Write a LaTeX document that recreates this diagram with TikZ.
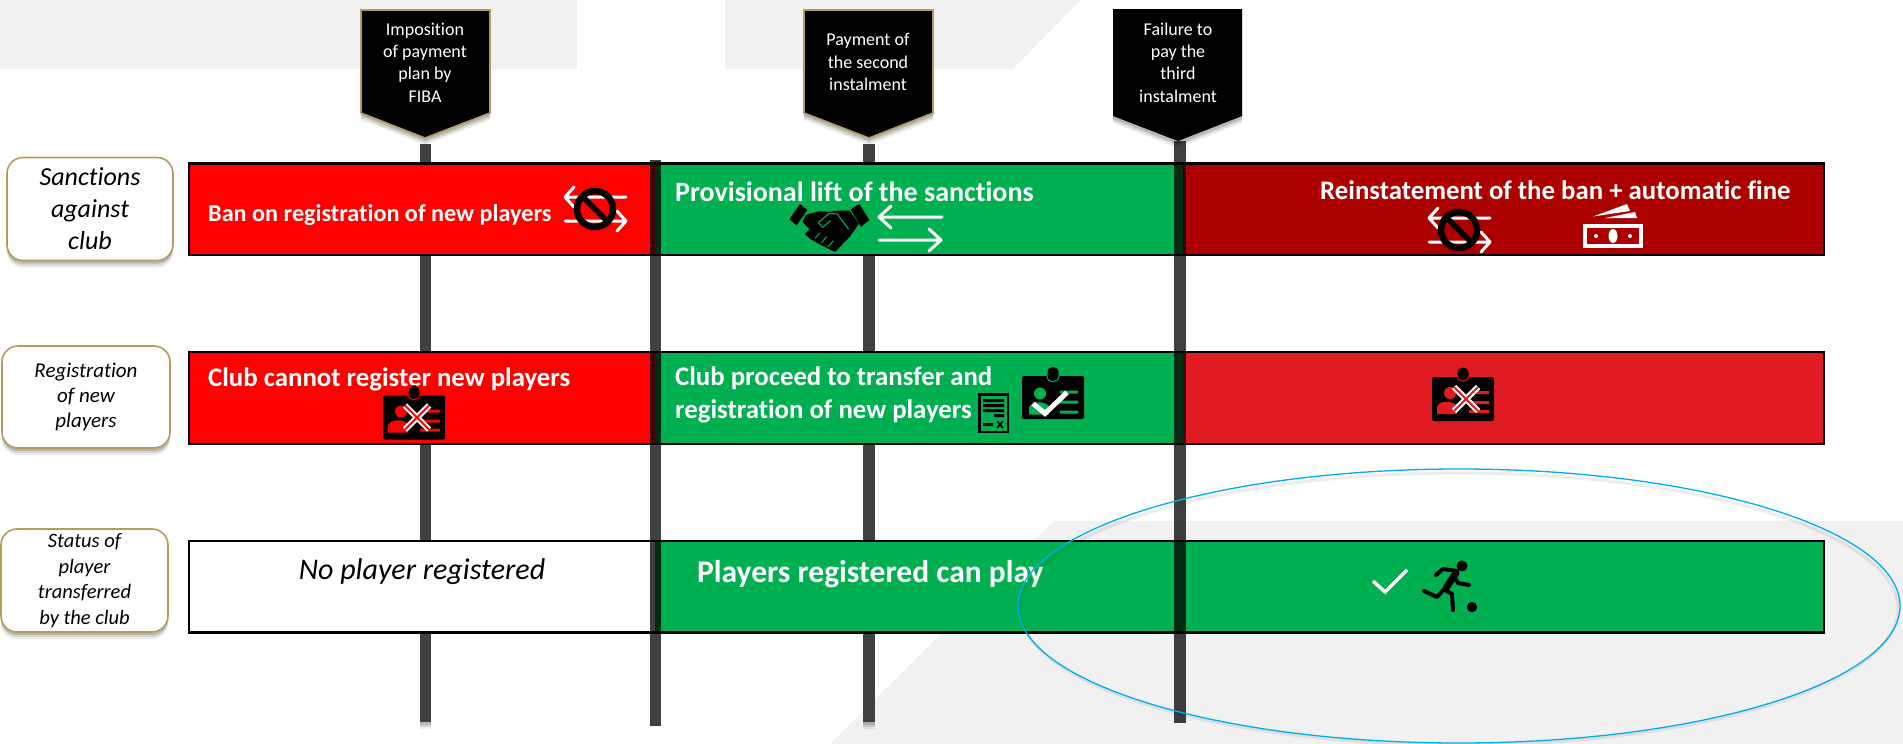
\documentclass[tikz,border=0pt]{standalone}
\usepackage{fontspec}
\setmainfont[RawFeature={-liga}]{Carlito}
\usetikzlibrary{shadows}
\definecolor{gold}{HTML}{B39C5B}
\definecolor{bggray}{HTML}{F1F1F2}
\definecolor{grn}{HTML}{00B050}
\definecolor{redA}{HTML}{FF0000}
\definecolor{redB}{HTML}{AC0000}
\definecolor{redC}{HTML}{E11B22}
\definecolor{skyb}{HTML}{00AEEF}
\tikzset{
  softshadow/.style={
    drop shadow={shadow xshift=0pt,shadow yshift=-7pt,opacity=.07,fill=black},
    drop shadow={shadow xshift=0pt,shadow yshift=-5pt,opacity=.10,fill=black},
    drop shadow={shadow xshift=0pt,shadow yshift=-3pt,opacity=.14,fill=black}},
  callout/.style={fill=black,softshadow},
  goldline/.style={draw=gold,line width=1.6pt},
  calltext/.style={text=white,inner sep=0pt,font=\fontsize{18}{22.3}\selectfont,align=center},
  sidebox/.style={rectangle,rounded corners=16pt,draw=gold,line width=1.6pt,fill=white,softshadow,inner sep=0pt,align=center,font=\itshape},
  backline/.style={fill=black!75,softshadow},
  overline/.style={fill=black,fill opacity=.75},
  barbox/.style={line width=2.6pt,draw=black},
  bartext/.style={text=white,inner sep=0pt,font=\bfseries,anchor=west},
  wline/.style={draw=white,line width=3pt,line cap=round,line join=round},
  banring/.style={draw=black,line width=6.5pt},
}
\newcommand{\banicon}[2]{%
  \begin{scope}[shift={(#1,#2)}]
    \draw[wline] (31,-12) -- (-30,-12) (-21,-22) -- (-30,-12) -- (-21,-2);
    \draw[wline] (-30,12) -- (31,12) (22,2) -- (31,12) -- (22,22);
    \draw[banring] (0,0) circle (18);
    \draw[draw=black,line width=5.5pt] (-13,-13) -- (13,13);
  \end{scope}}
\newcommand{\xbadge}[3]{%
  \begin{scope}[shift={(#1,#2)}]
    \fill[black,rounded corners=2pt] (-31,-22) rectangle (31,22);
    \fill[black,rounded corners=5pt,draw=#3,line width=1pt] (-6,-32) rectangle (6,-18);
    \fill[#3] (-13,-6) circle (6);
    \fill[#3] (-26,15) -- (-26,8) .. controls (-24,1) and (-8,1) .. (-6,8) -- (-6,15) -- cycle;
    \fill[#3] (6,-8) rectangle (26,-5) (6,2) rectangle (26,5) (6,11) rectangle (26,14);
    \draw[white,line width=6pt] (-9,-12) -- (15,12) (15,-12) -- (-9,12);
    \draw[#3,line width=2pt] (-9,-12) -- (15,12) (15,-12) -- (-9,12);
  \end{scope}}
\begin{document}
\begin{tikzpicture}[x=1pt,y=-1pt]
\useasboundingbox (0,0) rectangle (1903,744);
% background shapes
\fill[bggray] (0,0) rectangle (577,69);
\fill[bggray] (725,0) -- (1081,0) -- (1013,69) -- (725,69) -- cycle;
\fill[bggray] (1054,521) -- (1903,521) -- (1903,744) -- (830,744) -- cycle;
% vertical lines behind the bars
\coordinate (v1top) at (425.5,144); \coordinate (v1bot) at (425.5,722);
\coordinate (v3top) at (869,144);   \coordinate (v3bot) at (869,722);
\coordinate (v2top) at (655.5,160); \coordinate (v2bot) at (655.5,726);
\coordinate (v4top) at (1180,141);  \coordinate (v4bot) at (1180,723);
\path[backline] ([xshift=-5.5pt]v1top) rectangle ([xshift=5.5pt]v1bot);
\path[backline] ([xshift=-6pt]v3top) rectangle ([xshift=6pt]v3bot);
% bars
\path[fill=redA] (188,163) rectangle (655,255);
\path[fill=grn] (655,163) rectangle (1183,255);
\path[fill=redB] (1183,163) rectangle (1824,255);
\path[fill=redA] (188,352) rectangle (655,444);
\path[fill=grn] (655,352) rectangle (1183,444);
\path[fill=redC] (1183,352) rectangle (1824,444);
\path[fill=white] (188,541) rectangle (655,632);
\path[fill=grn] (655,541) rectangle (1824,632);
\draw[barbox] (189,163.5) rectangle (1824,255);
\draw[barbox] (189,352) rectangle (1824,444);
\draw[barbox] (189,541) rectangle (1824,632.5);
% lines over the bars
\path[overline] ([xshift=-5.5pt]v2top) rectangle ([xshift=5.5pt]v2bot);
\path[overline] ([xshift=-6pt]v4top) rectangle ([xshift=6pt]v4bot);
% callouts
\path[callout] (361,10) -- (490,10) -- (490,113) -- (425,138) -- (361,113) -- cycle;
\draw[goldline] (361,10) -- (490,10) -- (490,113) -- (425,138) -- (361,113) -- cycle;
\node[calltext] (c1) at (425,62.5) {Imposition\\of payment\\plan by\\FIBA};
\path[callout] (804,10) -- (933,10) -- (933,113) -- (869,138) -- (804,113) -- cycle;
\draw[goldline] (804,10) -- (933,10) -- (933,113) -- (869,138) -- (804,113) -- cycle;
\node[calltext] (c2) at (868,62) {Payment of\\the second\\instalment};
\path[callout] (1113,9) -- (1242,9) -- (1242,116) -- (1178,141) -- (1113,116) -- cycle;
\node[calltext] (c3) at (1178,62.5) {Failure to\\pay the\\third\\instalment};
% side boxes
\node[sidebox,minimum width=166pt,minimum height=103pt,font=\itshape\fontsize{26}{32}\selectfont] (s1) at (90,209) {Sanctions\\against\\club};
\node[sidebox,minimum width=168pt,minimum height=102pt,font=\itshape\fontsize{21}{25}\selectfont] (s2) at (86,397) {Registration\\of new\\players};
\node[sidebox,minimum width=167pt,minimum height=103pt,font=\itshape\fontsize{20.5}{25.7}\selectfont] (s3) at (84.5,580.5) {Status of\\player\\transferred\\by the club};
% bar texts
\node[bartext,font=\bfseries\fontsize{24.2}{24}\selectfont] (t1) at (208,215) {Ban on registration of new players};
\node[bartext,font=\bfseries\fontsize{28}{28}\selectfont] (t2) at (675,192) {Provisional lift of the sanctions};
\node[bartext,font=\bfseries\fontsize{26.8}{27}\selectfont] (t3) at (1320,190.5) {Reinstatement of the ban + automatic fine};
\node[bartext,font=\bfseries\fontsize{26.8}{27}\selectfont] (t4) at (208,379) {Club cannot register new players};
\node[bartext,font=\bfseries\fontsize{26.8}{33}\selectfont,align=left] (t5) at (675,394.5) {Club proceed to transfer and\\registration of new players};
\node[inner sep=0pt,font=\itshape\fontsize{30}{30}\selectfont] (t6) at (422,572) {No player registered};
\node[bartext,font=\bfseries\fontsize{31.5}{32}\selectfont] (t7) at (697,574) {Players registered can play};
% icons: ban
\banicon{595}{209}
\banicon{1459}{230}
% handshake
\begin{scope}[shift={(780,170)},scale=.3333]
  \fill[black] (28,148) -- (60,102) -- (82,120) -- (50,166) -- cycle;
  \fill[black] (212,118) -- (238,102) -- (268,150) -- (243,170) -- cycle;
  \filldraw[black,line width=1.5pt,line join=round] (80,136) -- (118,126) -- (150,128) -- (175,124) -- (208,124) -- (234,162) -- (208,198) -- (165,243) -- (150,236) -- (122,222) -- (92,205) -- (78,192) -- (92,178) -- (70,155) -- cycle;
  \draw[grn,line width=1.1pt,line join=round] (115,158) -- (148,130) -- (172,132) -- (206,178);
  \draw[grn,line width=1.1pt,line join=round] (115,158) -- (128,172) -- (152,152);
  \draw[grn,line width=1pt] (105,205) -- (120,188) (125,218) -- (140,200) (145,230) -- (160,212);
\end{scope}
\draw[wline] (942,217) -- (879,217) (891,206) -- (879,217) -- (891,228);
\draw[wline] (879,240) -- (941,240) (929,229) -- (941,240) -- (929,251);
% money
\begin{scope}
  \draw[white,line width=4pt] (1585,226) rectangle (1641,246);
  \fill[white] (1613,236) ellipse [x radius=4.5,y radius=7];
  \fill[white] (1596,236) circle (2) (1630,236) circle (2);
  \fill[white] (1593,216.5) -- (1627,204) -- (1630,211) -- cycle;
  \fill[white] (1605,218) -- (1635,212) -- (1637,218) -- cycle;
\end{scope}
% badges
\xbadge{414}{417.5}{redA}
\xbadge{1463}{399}{redC}
% doc
\begin{scope}
  \draw[black,line width=2.5pt] (979.5,394.5) rectangle (1008,432);
  \fill[black] (983,399) rectangle (1004,402) (983,404) rectangle (1004,407) (983,409) rectangle (1004,412)
        (994,414) rectangle (1004,417) (983,423) rectangle (993,426);
  \draw[black,line width=1.8pt] (997,421) -- (1003,428) (1003,421) -- (997,428);
\end{scope}
% badge check
\begin{scope}[shift={(1053,397.5)}]
  \fill[black,rounded corners=2pt] (-31,-21.5) rectangle (31,21.5);
  \fill[black,rounded corners=5pt,draw=grn,line width=1pt] (-6,-31) rectangle (6,-16);
  \fill[grn] (-13,-4) circle (6);
  \fill[grn] (-24,17) -- (-24,10) .. controls (-22,3) and (-6,3) .. (-4,10) -- (-4,17) -- cycle;
  \fill[grn] (7,-7) rectangle (25,-4) (7,3) rectangle (25,6) (7,13) rectangle (25,16);
  \draw[white,line width=5pt] (-20,6) -- (-8,16) -- (14,-5);
\end{scope}
% check and player
\draw[white,line width=3.4pt] (1373,581) -- (1385,592) -- (1407,570);
\fill[black] (1462,566) circle (5.5) (1472,607) circle (5.2);
\begin{scope}[black,line cap=round,line join=round]
  \draw[line width=7pt] (1456,573) -- (1446,588);
  \draw[line width=4pt] (1457,571) -- (1443,569) -- (1436,575);
  \draw[line width=4pt] (1455,578) -- (1458,583) -- (1469,585);
  \draw[line width=4pt] (1445,588) -- (1437,597) -- (1424,591);
  \draw[line width=4pt] (1445,590) -- (1452,594) -- (1453,610);
\end{scope}
% ellipse
\draw[black,opacity=.07,line width=3pt] (1459,609) ellipse [x radius=439,y radius=136];
\draw[skyb,line width=1.3pt] (1459,606) ellipse [x radius=441,y radius=137];
\end{tikzpicture}
\end{document}
